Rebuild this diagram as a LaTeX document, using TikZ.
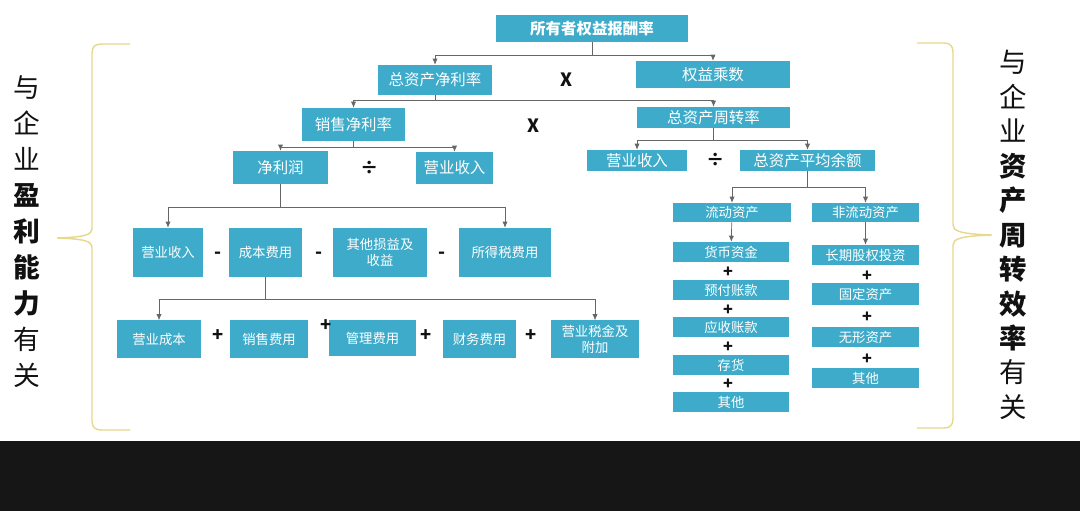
\documentclass[tikz,border=0pt]{standalone}
\usepackage{fontspec}
\setmainfont{Noto Sans CJK SC}
\usetikzlibrary{arrows.meta}
\definecolor{boxc}{HTML}{3DABC9}
\definecolor{linec}{HTML}{666666}
\definecolor{bracec}{HTML}{E9D78A}
\definecolor{ink}{HTML}{111111}
\definecolor{band}{HTML}{161616}
\tikzset{
  box/.style={fill=boxc,text=white,inner sep=0pt,align=center,
    font=\fontsize{11}{13}\selectfont},
  sbox/.style={box,font=\fontsize{9.5}{11.5}\selectfont},
  sz/.style 2 args={minimum width=#1*0.025cm,minimum height=#2*0.025cm},
  link/.style={-{Latex[length=1.5mm,width=1.3mm]},draw=linec,line width=0.5pt},
  op/.style={font=\fontsize{13}{13}\selectfont\bfseries,text=ink,inner sep=0pt},
  sop/.style={op,font=\fontsize{11.5}{12}\selectfont\bfseries},
  brace/.style={draw=bracec,line width=1pt},
  side/.style={align=center,text=ink,inner sep=0pt}
}
\begin{document}
\begin{tikzpicture}[x=0.025cm,y=-0.025cm]
  \useasboundingbox (0,0) rectangle (1080,511);
  \fill[white] (0,0) rectangle (1080,441);
  \fill[band] (0,441) rectangle (1080,511);

  \node[box,sz={192}{27},font=\fontsize{11}{13}\selectfont\bfseries] (roe) at (592,28.5) {所有者权益报酬率};
  \node[box,sz={114}{30}] (roa) at (435,80) {总资产净利率};
  \node[box,sz={154}{27}] (em) at (713,74.5) {权益乘数};
  \node[box,sz={103}{33}] (npm) at (353.5,124.5) {销售净利率};
  \node[box,sz={153}{21}] (tat) at (713.5,117.5) {总资产周转率};
  \node[box,sz={95}{33}] (np) at (280.5,167.5) {净利润};
  \node[box,sz={77}{32}] (rev) at (454.5,168) {营业收入};
  \node[box,sz={100}{21}] (rev2) at (637,160.5) {营业收入};
  \node[box,sz={135}{21}] (avga) at (807.5,160.5) {总资产平均余额};

  \node[sbox,sz={70}{49}] (rev3) at (168,252.5) {营业收入};
  \node[sbox,sz={73}{49}] (cost) at (265.5,252.5) {成本费用};
  \node[sbox,sz={94}{49}] (othg) at (380,252.5) {其他损益及\\收益};
  \node[sbox,sz={92}{49}] (itax) at (505,252.5) {所得税费用};

  \node[sbox,sz={84}{38}] (cogs) at (159,339.5) {营业成本};
  \node[sbox,sz={78}{38}] (sell) at (269,339.5) {销售费用};
  \node[sbox,sz={87}{36}] (admin) at (372.5,338) {管理费用};
  \node[sbox,sz={73}{38}] (fin) at (479.5,339.5) {财务费用};
  \node[sbox,sz={88}{38}] (stax) at (595,339.5) {营业税金及\\附加};

  \node[sbox,sz={118}{19}] (ca) at (732,212.5) {流动资产};
  \node[sbox,sz={107}{19}] (nca) at (865.5,212.5) {非流动资产};
  \node[sbox,sz={116}{20}] (cash) at (731,252) {货币资金};
  \node[sbox,sz={116}{20}] (prep) at (731,290) {预付账款};
  \node[sbox,sz={116}{20}] (recv) at (731,327) {应收账款};
  \node[sbox,sz={116}{20}] (inv) at (731,365) {存货};
  \node[sbox,sz={116}{20}] (oth1) at (731,402) {其他};
  \node[sbox,sz={107}{20}] (ltinv) at (865.5,255) {长期股权投资};
  \node[sbox,sz={107}{22}] (fixed) at (865.5,294) {固定资产};
  \node[sbox,sz={107}{20}] (intan) at (865.5,337) {无形资产};
  \node[sbox,sz={107}{20}] (oth2) at (865.5,378) {其他};

  \node[op] (x1) at (566,80) {X};
  \node[op] (x2) at (533,126) {X};
  \node[op] (d1) at (370,168) {÷};
  \node[op] (d2) at (716,160) {÷};
  \node[op] (m1) at (218,255) {-};
  \node[op] (m2) at (319,255) {-};
  \node[op] (m3) at (442,255) {-};
  \node[op] (p1) at (218,336) {+};
  \node[op] (p2) at (326,326) {+};
  \node[op] (p3) at (426,336) {+};
  \node[op] (p4) at (531,336) {+};
  \node[sop] (p5) at (728,272) {+};
  \node[sop] (p6) at (728,310) {+};
  \node[sop] (p7) at (728,347) {+};
  \node[sop] (p8) at (728,384) {+};
  \node[sop] (p9) at (867,276) {+};
  \node[sop] (p10) at (867,317) {+};
  \node[sop] (p11) at (867,359) {+};

  \draw[link] (roe.south) -- ++(0,13) -| (roa.north);
  \draw[link] (roe.south) -- ++(0,13) -| (em.north);
  \draw[link] (roa.south) -- ++(0,5) -| (npm.north);
  \draw[link] (roa.south) -- ++(0,5) -| (tat.north);
  \draw[link] (npm.south) -- ++(0,6) -| (np.north);
  \draw[link] (npm.south) -- ++(0,6) -| (rev.north);
  \draw[link] (tat.south) -- ++(0,12) -| (rev2.north);
  \draw[link] (tat.south) -- ++(0,12) -| (avga.north);
  \draw[link] (avga.south) -- ++(0,16) -| (ca.north);
  \draw[link] (avga.south) -- ++(0,16) -| (nca.north);
  \draw[link] (ca) -- (cash);
  \draw[link] (nca) -- (ltinv);
  \draw[link] (np.south) -- ++(0,23) -| (rev3.north);
  \draw[link] (np.south) -- ++(0,23) -| (itax.north);
  \draw[link] (cost.south) -- ++(0,22) -| (cogs.north);
  \draw[link] (cost.south) -- ++(0,22) -| (stax.north);

  \draw[brace] (130,44) -- (101,44) .. controls (95,44) and (92,47) .. (92,53)
    -- (92,228) .. controls (92,235) and (85,237) .. (57,238)
    .. controls (85,239) and (92,241) .. (92,248) -- (92,421)
    .. controls (92,427) and (95,430) .. (101,430) -- (130,430);
  \draw[brace] (917,43) -- (944,43) .. controls (950,43) and (953,46) .. (953,52)
    -- (953,225) .. controls (953,231) and (960,234) .. (992,235)
    .. controls (960,236) and (953,239) .. (953,245) -- (953,419)
    .. controls (953,425) and (950,428) .. (944,428) -- (917,428);

  \node[side,font=\fontsize{19}{25.6}\selectfont] (lside) at (27,232)
    {与\\企\\业\\\textbf{盈}\\\textbf{利}\\\textbf{能}\\\textbf{力}\\有\\关};
  \node[side,font=\fontsize{19.5}{24.5}\selectfont] (rside) at (1013,235)
    {与\\企\\业\\\textbf{资}\\\textbf{产}\\\textbf{周}\\\textbf{转}\\\textbf{效}\\\textbf{率}\\有\\关};
\end{tikzpicture}
\end{document}
